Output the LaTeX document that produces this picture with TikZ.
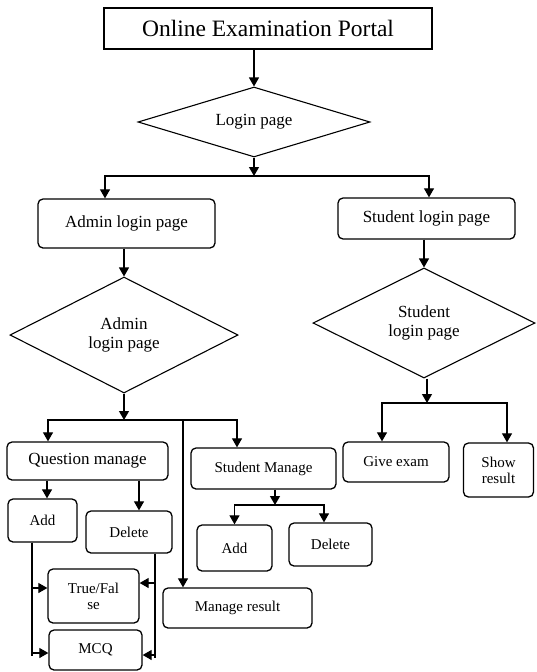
\documentclass[tikz,border=0pt]{standalone}
\usepackage{fontspec}
\setmainfont{Liberation Serif}
\usetikzlibrary{positioning,arrows.meta,shapes.geometric,calc}
\tikzset{
  box/.style  = {rectangle, draw, rounded corners=5pt, line width=1.3pt,
                 align = center, inner sep=1pt,
                 font = \fontsize{17}{19}\selectfont},
  sbox/.style = {box, font = \fontsize{15}{16}\selectfont},
  dia/.style  = {diamond, draw, line width=1.1pt, align = center,
                 inner sep=0pt, aspect=2,
                 font = \fontsize{17}{19}\selectfont},
  arr/.style  = {-{Triangle[length=9pt,width=10pt]}, line width=1.2pt},
  ln/.style   = {line width=1.2pt}
}

\begin{document}
\begin{tikzpicture}[x=1pt,y=-1pt]
    \useasboundingbox (0,0) rectangle (536,672);
    % top part
    \node[draw, line width=1.3pt, minimum width=328pt, minimum height=41pt,
          font=\fontsize{23.5}{26}\selectfont] (portal) at (268,28.5)
      {Online Examination Portal};
    \node[dia, aspect=3.3, minimum width=232pt, minimum height=70pt] (login) at (254,122)
      {Login page};
    \node[box, minimum width=177pt, minimum height=49pt] (adminbox) at (126.5,223.5)
      {Admin login page};
    \node[box, minimum width=177pt, minimum height=41pt] (studbox) at (426.5,218.5)
      {Student login page};
    \node[dia, minimum width=228pt, minimum height=116pt] (admindia) at (124,335)
      {Admin\\login page};
    \node[dia, minimum width=222pt, minimum height=110pt] (studdia) at (424,323)
      {Student\\login page};
    % admin side
    \node[box, minimum width=161pt, minimum height=38pt] (qman) at (87.5,461)
      {Question manage};
    \node[sbox, minimum width=145pt, minimum height=41pt] (sman) at (263.5,468.5)
      {Student Manage};
    \node[sbox, minimum width=69pt, minimum height=43pt] (qadd) at (42.5,520.5) {Add};
    \node[sbox, minimum width=86pt, minimum height=42pt] (qdel) at (129,532) {Delete};
    \node[sbox, minimum width=91pt, minimum height=54pt] (truefalse) at (93.5,596)
      {True/Fal\\se};
    \node[sbox, minimum width=93pt, minimum height=40pt] (mcq) at (95.5,650) {MCQ};
    \node[sbox, minimum width=75pt, minimum height=46pt] (sadd) at (234.5,548) {Add};
    \node[sbox, minimum width=83pt, minimum height=43pt] (sdel) at (330.5,544.5) {Delete};
    \node[sbox, minimum width=149pt, minimum height=40pt] (mresult) at (237.5,608)
      {Manage result};
    % student side
    \node[sbox, minimum width=106pt, minimum height=40pt] (giveexam) at (396,462)
      {Give exam};
    \node[sbox, minimum width=70pt, minimum height=54pt] (showres) at (498.5,470)
      {Show\\result};
    % junctions
    \coordinate (jlogin) at (254,176);
    \coordinate (jadmin) at (124,420);
    \coordinate (jres)   at (183,420);
    \coordinate (jsman)  at (275,505);
    \coordinate (jstud)  at (427,403);
    % connectors
    \draw[arr] (login.north |- portal.south) -- (login.north);
    \draw[arr] (login.south) -- (jlogin);
    \draw[arr] (jlogin) -| ([xshift=-21.5pt]adminbox.north);
    \draw[arr] (jlogin) -| ([xshift=2.5pt]studbox.north);
    \draw[arr] (admindia.north |- adminbox.south) -- (admindia.north);
    \draw[arr] (studdia.north |- studbox.south) -- (studdia.north);
    \draw[arr] (admindia.south) -- (jadmin);
    \draw[arr] (jadmin) -| ([xshift=-39.5pt]qman.north);
    \draw[arr] (jadmin) -| ([xshift=-26.5pt]sman.north);
    \draw[arr] (jres) -- (jres |- mresult.north);
    \draw[arr] ([xshift=4.5pt]qadd.north |- qman.south) -- ([xshift=4.5pt]qadd.north);
    \draw[arr] ([xshift=10pt]qdel.north |- qman.south) -- ([xshift=10pt]qdel.north);
    \draw[ln] ([xshift=-10.5pt]qadd.south) -- ++(0,113);
    \draw[arr] ([xshift=-10.5pt]qadd.south) |- ([yshift=8pt]truefalse.west);
    \draw[arr] ([xshift=-10.5pt]qadd.south) |- ([yshift=-3pt]mcq.west);
    \draw[ln] ([xshift=26pt]qdel.south) -- ++(0,104);
    \draw[arr] ([xshift=26pt]qdel.south) |- ([yshift=13pt]truefalse.east);
    \draw[arr] ([xshift=26pt]qdel.south) |- ([yshift=-5pt]mcq.east);
    \draw[arr] (jsman |- sman.south) -- (jsman);
    \draw[arr] (jsman) -| (sadd.north);
    \draw[arr] (jsman) -| ([xshift=-6.5pt]sdel.north);
    \draw[arr] (studdia.south -| jstud) -- (jstud);
    \draw[arr] (jstud) -| ([xshift=-14pt]giveexam.north);
    \draw[arr] (jstud) -| ([xshift=8.5pt]showres.north);
\end{tikzpicture}
\end{document}
